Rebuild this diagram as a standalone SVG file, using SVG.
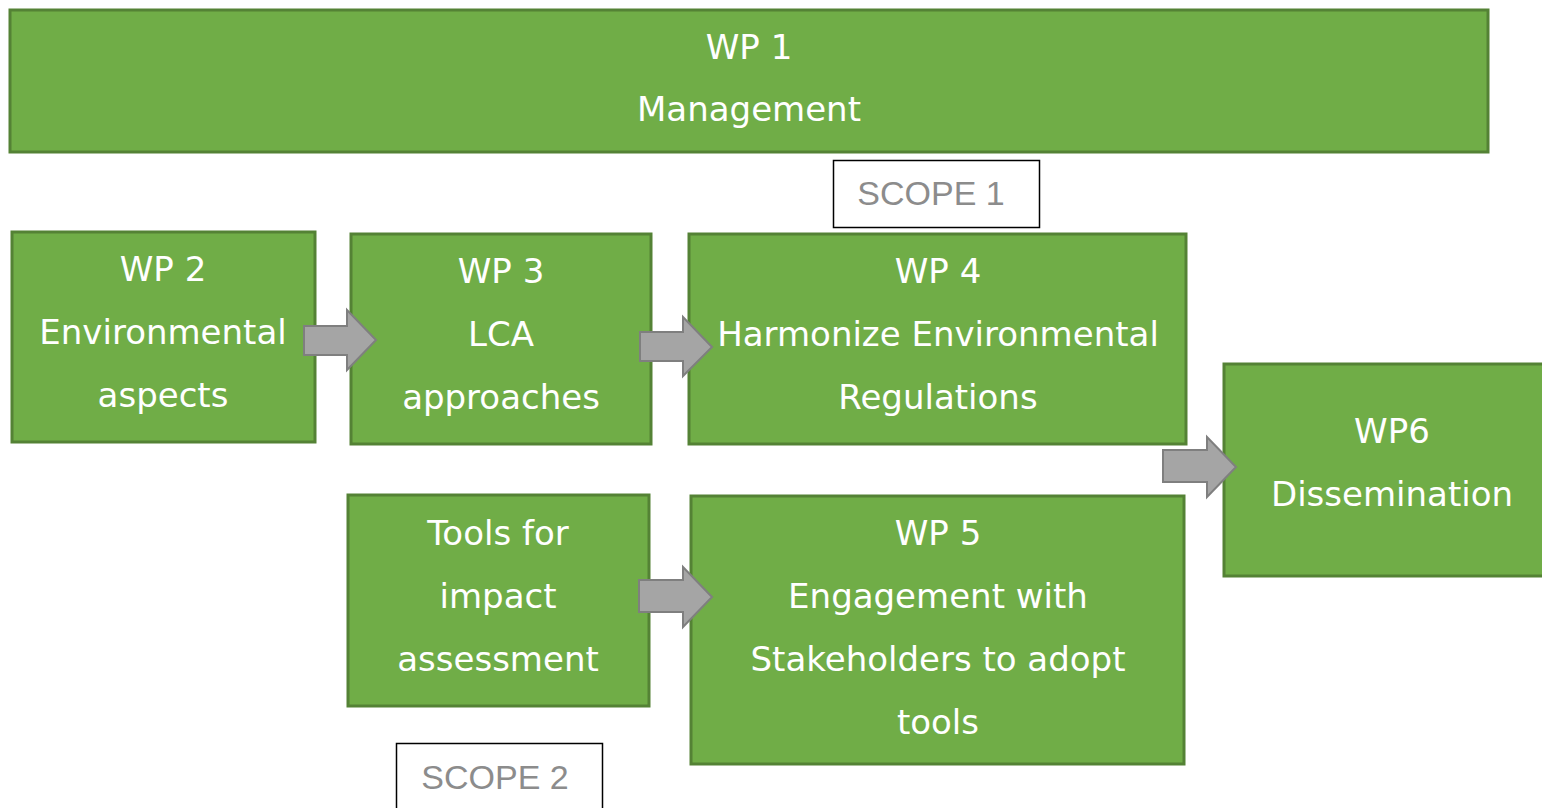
<svg xmlns="http://www.w3.org/2000/svg" width="1542" height="808" viewBox="0 0 1542 808">
<style>
.n{fill:#70AD47;stroke:#548235;stroke-width:3}
.t{fill:#ffffff;font-family:"DejaVu Sans",sans-serif;font-size:34px;text-anchor:middle}
.s{fill:#ffffff;stroke:#000000;stroke-width:1.5}
.st{fill:#8C8C8C;font-family:"Liberation Sans",Arial,sans-serif;font-size:34px;text-anchor:middle}
.a{fill:#A5A5A5;stroke:#7F7F7F;stroke-width:2;stroke-linejoin:miter}
</style>
<rect width="1542" height="808" fill="#ffffff"/>
<g id="wp1"><rect class="n" x="10" y="10" width="1478" height="142"/><text class="t" x="749" y="59">WP 1</text><text class="t" x="749" y="121">Management</text></g>
<g id="scope1"><rect class="s" x="833.5" y="160.5" width="206" height="67"/><text class="st" x="931" y="205">SCOPE 1</text></g>
<g id="wp2"><rect class="n" x="12" y="232" width="303" height="210"/><text class="t" x="163" y="281">WP 2</text><text class="t" x="163" y="344">Environmental</text><text class="t" x="163" y="407">aspects</text></g>
<g id="wp3"><rect class="n" x="351" y="234" width="300" height="210"/><text class="t" x="501" y="283">WP 3</text><text class="t" x="501" y="346">LCA</text><text class="t" x="501" y="409">approaches</text></g>
<g id="wp4"><rect class="n" x="689" y="234" width="497" height="210"/><text class="t" x="938" y="283">WP 4</text><text class="t" x="938" y="346">Harmonize Environmental</text><text class="t" x="938" y="409">Regulations</text></g>
<g id="wp6"><rect class="n" x="1224" y="364" width="322" height="212"/><text class="t" x="1392" y="443">WP6</text><text class="t" x="1392" y="506">Dissemination</text></g>
<g id="tools"><rect class="n" x="348" y="495" width="301" height="211"/><text class="t" x="498" y="545">Tools for</text><text class="t" x="498" y="608">impact</text><text class="t" x="498" y="671">assessment</text></g>
<g id="wp5"><rect class="n" x="691" y="496" width="493" height="268"/><text class="t" x="938" y="545">WP 5</text><text class="t" x="938" y="608">Engagement with</text><text class="t" x="938" y="671">Stakeholders to adopt</text><text class="t" x="938" y="734">tools</text></g>
<g id="scope2"><rect class="s" x="396.5" y="743.5" width="206" height="70"/><text class="st" x="495" y="789">SCOPE 2</text></g>
<g id="connectors">
<polygon class="a" points="304,326 347,326 347,310 376,340 347,370 347,355 304,355"/>
<polygon class="a" points="640,332 683,332 683,317 712,347 683,376 683,361 640,361"/>
<polygon class="a" points="1163,450 1207,450 1207,437 1236,467 1207,497 1207,482 1163,482"/>
<polygon class="a" points="639,580 683,580 683,567 712,597 683,627 683,612 639,612"/>
</g>
</svg>
